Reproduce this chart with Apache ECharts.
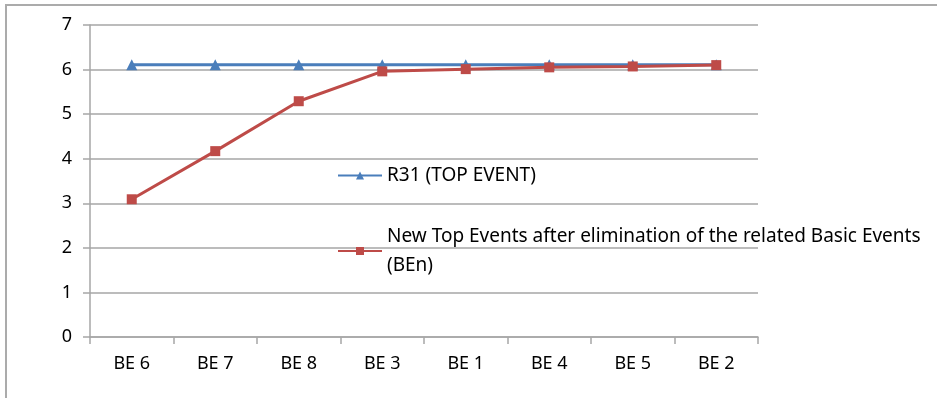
<!DOCTYPE html>
<html>
<head>
<meta charset="utf-8">
<script src="https://cdn.jsdelivr.net/npm/echarts@6/dist/echarts.min.js"></script>
<style>
  html, body { margin: 0; padding: 0; background: #fff; }
  #chart { width: 937px; height: 398px; }
</style>
</head>
<body>
<div id="chart"></div>
<script>
// categories and values
var categories = ['BE 6', 'BE 7', 'BE 8', 'BE 3', 'BE 1', 'BE 4', 'BE 5', 'BE 2'];
var topEvent = [6.11, 6.11, 6.11, 6.11, 6.11, 6.11, 6.11, 6.11];
var newTopEvents = [3.09, 4.17, 5.29, 5.96, 6.01, 6.05, 6.07, 6.10];
var seriesNames = ['R31 (TOP EVENT)', 'New Top Events after elimination of the related Basic Events (BEn)'];

var font = 'Noto Sans';
var chart = echarts.init(document.getElementById('chart'), null, { renderer: 'canvas' });

var option = {
	animation: false,
	backgroundColor: '#fff',
	graphic: [{
		type: 'rect',
		shape: { x: 6, y: 5, width: 1200, height: 600 },
		style: { fill: 'none', stroke: '#ababab', lineWidth: 2 },
		silent: true
	}],
	grid: { left: 90, right: 179, top: 25, bottom: 61 },
	legend: [
		{
			data: [seriesNames[0]],
			left: 337,
			top: 166,
			padding: 0,
			itemWidth: 44,
			itemHeight: 10,
			textStyle: { fontFamily: font, fontSize: 19, color: '#000' }
		},
		{
			data: [seriesNames[1]],
			left: 337,
			top: 222,
			padding: 0,
			itemWidth: 44,
			itemHeight: 10,
			formatter: function (name) {
				return name.replace(' (BEn)', '\n(BEn)');
			},
			textStyle: { fontFamily: font, fontSize: 19, color: '#000', lineHeight: 29 }
		}
	],
	xAxis: {
		type: 'category',
		data: categories,
		boundaryGap: true,
		axisLine: { lineStyle: { color: '#a6a6a6', width: 1.5 } },
		axisTick: { show: true, length: 7, lineStyle: { color: '#a6a6a6', width: 1.5 } },
		axisLabel: { fontFamily: font, fontSize: 18, color: '#000', margin: 18 },
		splitLine: { show: false }
	},
	yAxis: {
		type: 'value',
		min: 0,
		max: 7,
		interval: 1,
		axisLine: { show: true, lineStyle: { color: '#a6a6a6', width: 1.5 } },
		axisTick: { show: true, length: 7, lineStyle: { color: '#a6a6a6', width: 1.5 } },
		axisLabel: { fontFamily: font, fontSize: 18, color: '#000', margin: 18 },
		splitLine: { lineStyle: { color: '#a6a6a6', width: 1.5 } }
	},
	series: [
		{
			name: seriesNames[0],
			type: 'line',
			data: topEvent,
			symbol: 'triangle',
			symbolSize: 11,
			itemStyle: { color: '#4a7ebb' },
			lineStyle: { color: '#4a7ebb', width: 3 }
		},
		{
			name: seriesNames[1],
			type: 'line',
			data: newTopEvents,
			symbol: 'rect',
			symbolSize: 10,
			itemStyle: { color: '#be4b48' },
			lineStyle: { color: '#be4b48', width: 3 }
		}
	]
};
chart.setOption(option);
</script>
</body>
</html>
